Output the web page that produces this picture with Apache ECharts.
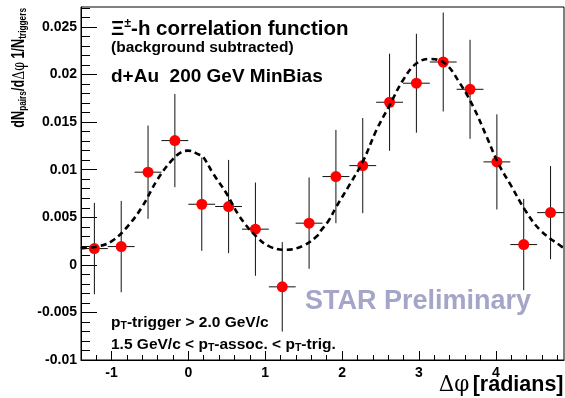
<!DOCTYPE html>
<html><head><meta charset="utf-8">
<script src="https://cdn.jsdelivr.net/npm/echarts@6/dist/echarts.min.js"></script>
<style>html,body{margin:0;padding:0;background:#fff;}#c{width:565px;height:398px;}</style>
</head><body><div id="c"></div>
<script>
// ---- data ----
const binCenters = [-1.222, -0.873, -0.524, -0.175, 0.175, 0.524, 0.873, 1.222, 1.571, 1.920, 2.269, 2.618, 2.967, 3.316, 3.665, 4.014, 4.363, 4.712];
const yields     = [0.00171, 0.00192, 0.00974, 0.01306, 0.00637, 0.00613, 0.00375, -0.00231, 0.00438, 0.00928, 0.01043, 0.01709, 0.01909, 0.02132, 0.01845, 0.01082, 0.00213, 0.00549];
const yErrors    = [0.0048, 0.0048, 0.0049, 0.0049, 0.0049, 0.0049, 0.0049, 0.0047, 0.0048, 0.0049, 0.0050, 0.0051, 0.0052, 0.0052, 0.0052, 0.0050, 0.0048, 0.0049];
const binHalfWidth = 0.1745;
const fitX = [-1.396, -1.380, -1.142, -0.969, -0.773, -0.599, -0.404, -0.230, -0.100, 0.000, 0.138, 0.190, 0.320, 0.495, 0.668, 0.885, 1.059, 1.276, 1.492, 1.667, 1.732, 1.818, 1.927, 2.100, 2.273, 2.448, 2.621, 2.794, 2.969, 3.142, 3.337, 3.533, 3.706, 3.880, 4.031, 4.206, 4.379, 4.574, 4.857, 4.887];
const fitY = [0.00170, 0.00175, 0.00200, 0.00263, 0.00420, 0.00613, 0.00893, 0.01085, 0.01180, 0.01200, 0.01160, 0.01138, 0.00963, 0.00753, 0.00507, 0.00297, 0.00192, 0.00158, 0.00200, 0.00297, 0.00368, 0.00455, 0.00613, 0.00845, 0.01090, 0.01418, 0.01681, 0.01943, 0.02118, 0.02164, 0.02118, 0.01908, 0.01663, 0.01348, 0.01068, 0.00822, 0.00578, 0.00368, 0.00192, 0.00185];
const xMajorTicks = [-1, 0, 1, 2, 3, 4];
const xMinorTicks = [-1.2, -0.8, -0.6, -0.4, -0.2, 0.2, 0.4, 0.6, 0.8, 1.2, 1.4, 1.6, 1.8, 2.2, 2.4, 2.6, 2.8, 3.2, 3.4, 3.6, 3.8, 4.2, 4.4, 4.6, 4.8];
const yMajorTicks = [-0.01, -0.005, 0, 0.005, 0.01, 0.015, 0.02, 0.025];
const yMinorTicks = [-0.009, -0.008, -0.007, -0.006, -0.004, -0.003, -0.002, -0.001, 0.001, 0.002, 0.003, 0.004, 0.006, 0.007, 0.008, 0.009, 0.011, 0.012, 0.013, 0.014, 0.016, 0.017, 0.018, 0.019, 0.021, 0.022, 0.023, 0.024, 0.026, 0.027];
const xRange = [-1.396, 4.887];
const yRange = [-0.01, 0.0271];

// ---- chart ----
const FF = "'Liberation Sans', Arial, Helvetica, sans-serif";
const chart = echarts.init(document.getElementById('c'), null, {renderer: 'canvas'});

const errData = binCenters.map((x, i) => [x, yields[i], yErrors[i]]);
const ptData = binCenters.map((x, i) => [x, yields[i]]);
const fitData = fitX.map((x, i) => [x, fitY[i]]);

function renderErr(params, api) {
  const x = api.value(0), y = api.value(1), e = api.value(2);
  const top = api.coord([x, y + e]);
  const bot = api.coord([x, y - e]);
  const l = api.coord([x - binHalfWidth, y]);
  const r = api.coord([x + binHalfWidth, y]);
  const st = {stroke: '#111', lineWidth: 1};
  return {type: 'group', children: [
    {type: 'line', shape: {x1: top[0], y1: top[1], x2: bot[0], y2: bot[1]}, style: st},
    {type: 'line', shape: {x1: l[0], y1: l[1], x2: r[0], y2: r[1]}, style: st}
  ]};
}

const tickLbl = {fontSize: 14, fontWeight: 'bold', color: '#000', fontFamily: FF};
const m = (fs, lh) => ({fontSize: fs, fontWeight: 'bold', fontFamily: FF, fill: '#000', lineHeight: lh});

chart.setOption({
  animation: false,
  backgroundColor: '#fff',
  grid: {left: 81, top: 7, width: 483, height: 353, show: true, borderColor: '#000', borderWidth: 1, backgroundColor: 'transparent'},
  xAxis: [
    {type: 'value', min: xRange[0], max: xRange[1], position: 'bottom',
     axisLine: {show: true, onZero: false, lineStyle: {color: '#000', width: 1}},
     axisTick: {show: true, inside: true, length: 9, customValues: xMajorTicks, lineStyle: {color: '#000'}},
     axisLabel: Object.assign({customValues: xMajorTicks, margin: 6, formatter: v => String(Math.round(v))}, tickLbl),
     splitLine: {show: false}},
    {type: 'value', min: xRange[0], max: xRange[1], position: 'bottom',
     axisLine: {show: false, onZero: false},
     axisTick: {show: true, inside: true, length: 5, customValues: xMinorTicks, lineStyle: {color: '#000'}},
     axisLabel: {show: false}, splitLine: {show: false}}
  ],
  yAxis: [
    {type: 'value', min: yRange[0], max: yRange[1], position: 'left',
     axisLine: {show: true, onZero: false, lineStyle: {color: '#000', width: 1}},
     axisTick: {show: true, inside: true, length: 16, customValues: yMajorTicks, lineStyle: {color: '#000'}},
     axisLabel: Object.assign({customValues: yMajorTicks, margin: 4, formatter: v => String(Math.round(v * 10000) / 10000)}, tickLbl),
     splitLine: {show: false}},
    {type: 'value', min: yRange[0], max: yRange[1], position: 'left',
     axisLine: {show: false, onZero: false},
     axisTick: {show: true, inside: true, length: 9, customValues: yMinorTicks, lineStyle: {color: '#000'}},
     axisLabel: {show: false}, splitLine: {show: false}}
  ],
  series: [
    {type: 'custom', xAxisIndex: 0, yAxisIndex: 0, data: errData, renderItem: renderErr, z: 2, clip: true},
    {type: 'scatter', xAxisIndex: 0, yAxisIndex: 0, data: ptData, symbol: 'circle', symbolSize: 11, itemStyle: {color: '#ff0000', opacity: 1}, z: 3},
    {type: 'line', xAxisIndex: 0, yAxisIndex: 0, data: fitData, smooth: 0.4, showSymbol: false, symbol: 'none', clip: true,
     lineStyle: {color: '#000', width: 2.6, type: [6, 4]}, z: 4}
  ],
  graphic: [
    {type: 'text', x: 111, y: 29.2, z: 10, style: {
      text: '{m|Ξ}{sup|±}{m|-h correlation function}', align: 'left', verticalAlign: 'middle',
      rich: {m: m(20.5, 24), sup: Object.assign(m(12.5, 14), {verticalAlign: 'top'})}}},
    {type: 'text', x: 111, y: 47.8, z: 10, style: {
      text: '(background subtracted)', align: 'left', verticalAlign: 'middle',
      fontSize: 15.5, fontWeight: 'bold', fontFamily: FF, fill: '#000'}},
    {type: 'text', x: 111, y: 77, z: 10, style: {
      text: 'd+Au  200 GeV MinBias', align: 'left', verticalAlign: 'middle',
      fontSize: 19, fontWeight: 'bold', fontFamily: FF, fill: '#000'}},
    {type: 'text', x: 111, y: 322.3, z: 10, style: {
      text: '{m|p}{s|T}{m|-trigger > 2.0 GeV/c}', align: 'left', verticalAlign: 'middle',
      rich: {m: m(15.5, 18), s: Object.assign(m(10.5, 3), {verticalAlign: 'bottom'})}}},
    {type: 'text', x: 111, y: 344.7, z: 10, style: {
      text: '{m|1.5 GeV/c < p}{s|T}{m|-assoc. < p}{s|T}{m|-trig.}', align: 'left', verticalAlign: 'middle',
      rich: {m: m(15.5, 18), s: Object.assign(m(10.5, 3), {verticalAlign: 'bottom'})}}},
    {type: 'text', x: 305, y: 301.7, z: 10, style: {
      text: 'STAR Preliminary', align: 'left', verticalAlign: 'middle',
      fontSize: 27, fontWeight: 'bold', fontFamily: FF, fill: '#a5a5c9'}},
    {type: 'text', x: 563.5, y: 385.5, z: 10, style: {
      text: '{g|Δφ} {m|[radians]}', align: 'right', verticalAlign: 'middle',
      rich: {m: m(21.5, 24), g: {fontSize: 21.5, fontWeight: 'normal', fontFamily: "'DejaVu Serif', 'Liberation Serif', serif", fill: '#000', lineHeight: 24}}}},
    {type: 'text', x: 19.3, y: 8, rotation: Math.PI / 2, scaleX: 0.72, z: 10, style: {
      text: '{m|dN}{s|pairs}{m|/d}{g|Δφ}{m| 1/N}{s|triggers}', align: 'right', verticalAlign: 'middle',
      rich: {m: m(17.5, 20), s: Object.assign(m(11.5, 10), {verticalAlign: 'bottom'}),
             g: {fontSize: 17.5, fontWeight: 'normal', fontFamily: "'DejaVu Serif', 'Liberation Serif', serif", fill: '#000', lineHeight: 20}}}}
  ]
});
</script>
</body></html>
